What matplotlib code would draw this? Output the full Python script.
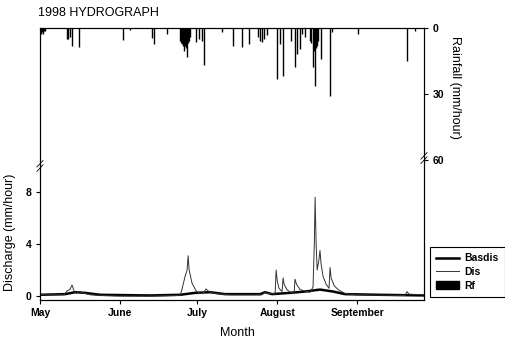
import matplotlib
matplotlib.use("Agg")
import matplotlib.pyplot as plt
from matplotlib.lines import Line2D
from matplotlib.patches import Patch

plt.rcParams['font.family'] = ['Liberation Sans', 'DejaVu Sans']

# days since 1 May 1998
month_days = [0, 31, 61, 92, 123]
month_names = ["May", "June", "July", "August", "September"]

# Dis: total discharge (mm/hour)
dis_day = [0, 9.3, 10.5, 11.6, 12.4, 13.2, 14.0, 15.1, 16.7, 19.4, 23.3, 31, 42.6,
           54.3, 55.0, 56.2, 57.0, 57.4, 57.8, 58.9, 60.5, 62.0, 63.6, 64.3, 65.5,
           67.8, 73.6, 86.0, 87.2, 88.4, 91.1, 91.5, 91.9, 92.6, 93.8, 94.2, 94.6,
           95.7, 96.9, 98.5, 98.8, 99.4, 100.8, 103.1, 104.7, 105.8, 106.3, 106.6,
           107.0, 107.4, 108.1, 108.5, 108.9, 109.7, 110.9, 112.0, 112.4, 112.8,
           114.0, 115.5, 118.2, 122.1, 141.5, 142.2, 143.0, 148.8]
dis_val = [0.1, 0.1, 0.4, 0.5, 0.85, 0.4, 0.2, 0.35, 0.25, 0.1, 0.05, 0.0, 0.0,
           0.05, 0.5, 1.5, 2.0, 3.1, 2.0, 1.0, 0.4, 0.2, 0.3, 0.55, 0.35,
           0.2, 0.1, 0.1, 0.3, 0.2, 0.15, 2.0, 1.2, 0.6, 0.35, 1.4, 0.9,
           0.5, 0.3, 0.3, 1.3, 0.9, 0.5, 0.35, 0.3, 0.7, 4.0, 7.6,
           4.0, 2.0, 2.8, 3.5, 2.5, 1.5, 0.9, 0.6, 2.2, 1.4,
           0.8, 0.5, 0.2, 0.1, 0.05, 0.35, 0.15, 0.1]

# Basdis: baseflow discharge (mm/hour)
bas_day = [0, 9.7, 13.6, 17.4, 23.3, 42.6, 54.3, 60.1, 65.9, 71.7, 85.3, 87.2,
           89.9, 96.9, 102.7, 108.5, 113.6, 118.2, 131.8, 148.8]
bas_val = [0.1, 0.15, 0.3, 0.25, 0.1, 0.05, 0.1, 0.25, 0.3, 0.15, 0.15, 0.3,
           0.15, 0.25, 0.35, 0.5, 0.35, 0.15, 0.1, 0.05]

# Rf: rainfall (mm/hour)
rf_day = [0.4, 0.8, 1.2, 1.6, 1.9, 10.3, 10.9, 11.6, 12.5, 15.2, 32.3, 34.9,
          43.3, 44.3, 49.1, 54.3, 54.7, 55.0, 55.4, 55.8, 56.2, 56.6, 57.0,
          57.4, 57.8, 58.1, 60.5, 61.7, 62.8, 63.7, 70.7, 74.7, 78.2, 81.1,
          84.6, 85.3, 86.0, 86.8, 87.9, 91.7, 93.0, 94.3, 97.2, 98.8, 99.5,
          100.8, 101.4, 102.7, 104.7, 105.0, 105.7, 106.2, 106.6, 107.0, 107.4,
          107.9, 108.8, 112.4, 113.1, 123.4, 142.4, 145.3]
rf_val = [2.7, 2.0, 2.5, 1.5, 1.2, 5, 5, 4, 8, 8.5, 5.5, 1.0,
          4.5, 7.3, 2.7, 6, 7, 7.3, 8, 10.3, 8, 9, 13,
          7, 6, 4, 6.4, 5, 5.8, 17, 1.8, 8, 8.8, 7.3,
          4, 5.8, 6.4, 5, 3, 23, 7.3, 21.8, 5.8, 17.9, 11.8,
          9.5, 2.7, 4.2, 5.8, 7, 17.7, 10.3, 26.2, 9, 8,
          6, 14, 30.8, 2, 2.7, 15, 1.4]

fig = plt.figure(figsize=(5.05, 3.41), dpi=100)
ax = fig.add_axes([40 / 505, 41 / 341, 384 / 505, 272 / 341])

ax.plot(bas_day, bas_val, color="black", lw=1.8, zorder=3)
ax.plot(dis_day, dis_val, color="#333333", lw=0.7, zorder=4)
ax.set_xlim(0, 148.8)
ax.set_ylim(-0.3, 20.6)
ax.set_yticks([0, 4, 8])
ax.set_xticks(month_days)
ax.set_xticklabels(month_names)
ax.tick_params(direction="out", length=3, width=0.8, labelsize=7.5, pad=3)
for lab in ax.get_xticklabels() + ax.get_yticklabels():
    lab.set_fontweight("bold")

ax2 = ax.twinx()
ax2.vlines(rf_day, 0, rf_val, color="black", lw=1.0)
ax2.set_ylim(123.6, 0)
ax2.set_yticks([0, 30, 60])
ax2.tick_params(direction="out", length=3, width=0.8, labelsize=7.5, pad=3)
for lab in ax2.get_yticklabels():
    lab.set_fontweight("bold")

for a in (ax, ax2):
    for s in a.spines.values():
        s.set_linewidth(0.8)

# axis break marks
for xb, yb in [(0, 0.493), (1, 0.522)]:
    for dy in (-0.008, 0.008):
        ax.plot([xb - 0.008, xb + 0.008], [yb + dy - 0.012, yb + dy + 0.012],
                transform=ax.transAxes, color="black", lw=0.6, clip_on=False)

fig.text(38 / 505, 1 - 13 / 341, "1998 HYDROGRAPH", fontsize=9, ha="left", va="center")
fig.text(10 / 505, 1 - 232 / 341, "Discharge (mm/hour)", fontsize=9, rotation=90,
         ha="center", va="center")
fig.text(455 / 505, 1 - 87 / 341, "Rainfall (mm/hour)", fontsize=9, rotation=270,
         ha="center", va="center")
fig.text(237 / 505, 1 - 333 / 341, "Month", fontsize=9, ha="center", va="center")

handles = [Line2D([], [], color="black", lw=1.8),
           Line2D([], [], color="#333333", lw=0.7),
           Patch(facecolor="black", edgecolor="black")]
leg = fig.legend(handles, ["Basdis", "Dis", "Rf"], loc="upper left",
                 bbox_to_anchor=(430 / 505, 1 - 247 / 341), borderaxespad=0,
                 fancybox=False, edgecolor="black", framealpha=1,
                 prop={"size": 7.5, "weight": "bold"}, handlelength=2.2,
                 handletextpad=0.5, labelspacing=0.35, borderpad=0.6)
leg.get_frame().set_linewidth(0.8)

fig.savefig("out.png", dpi=100)
